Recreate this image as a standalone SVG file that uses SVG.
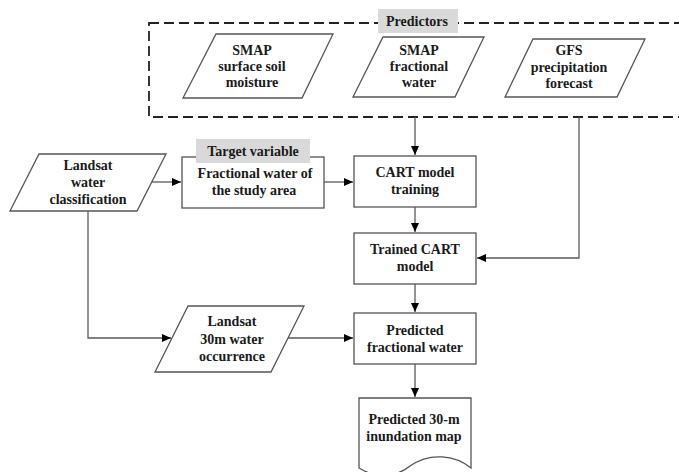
<svg xmlns="http://www.w3.org/2000/svg" width="679" height="472" viewBox="0 0 679 472">
<style>
  .box { fill: #ffffff; stroke: #555555; stroke-width: 1.3; }
  .lbl { fill: #d9d9d9; stroke: none; }
  .t { font-family: "Liberation Serif", "Times New Roman", serif; font-weight: bold; font-size: 14px; fill: #1a1a1a; text-anchor: middle; }
  .conn { fill: none; stroke: #5a5a5a; stroke-width: 1.3; }
  .dash { fill: none; stroke: #222222; stroke-width: 1.8; stroke-dasharray: 10 5; }
</style>
<defs>
  <marker id="arr" markerUnits="userSpaceOnUse" markerWidth="10" markerHeight="10" refX="9" refY="5" orient="auto">
    <path d="M0,1 L9,5 L0,9 Z" fill="#000000"/>
  </marker>
</defs>
<rect width="679" height="472" fill="#ffffff"/>

<g id="predictors-group">
  <rect class="dash" x="149" y="23" width="560" height="94"/>
  <rect class="lbl" x="378" y="9" width="80" height="24"/>
  <text class="t" x="417" y="26">Predictors</text>
</g>

<g id="smap-soil">
  <polygon class="box" points="216,34 333,34 302,98 183,98"/>
  <text class="t" x="252" y="55">SMAP</text>
  <text class="t" x="252" y="71">surface soil</text>
  <text class="t" x="252" y="87">moisture</text>
</g>

<g id="smap-fw">
  <polygon class="box" points="383,37 484,37 455,97 353,97"/>
  <text class="t" x="419" y="55">SMAP</text>
  <text class="t" x="419" y="71">fractional</text>
  <text class="t" x="419" y="87">water</text>
</g>

<g id="gfs">
  <polygon class="box" points="533,39 645,39 617,97 505,97"/>
  <text class="t" x="569" y="55">GFS</text>
  <text class="t" x="569" y="72">precipitation</text>
  <text class="t" x="569" y="88">forecast</text>
</g>

<g id="landsat-water">
  <polygon class="box" points="39,154 166,154 137,211 10,211"/>
  <text class="t" x="88" y="170">Landsat</text>
  <text class="t" x="88" y="187">water</text>
  <text class="t" x="88" y="204">classification</text>
</g>

<g id="fractional-target">
  <rect class="box" x="182" y="157" width="142" height="51"/>
  <rect class="lbl" x="196" y="139" width="114" height="24"/>
  <text class="t" x="253" y="156">Target variable</text>
  <text class="t" x="255" y="178">Fractional water of</text>
  <text class="t" x="254" y="195">the study area</text>
</g>

<g id="cart-training">
  <rect class="box" x="354" y="156" width="122" height="51"/>
  <text class="t" x="415" y="177">CART model</text>
  <text class="t" x="415" y="194">training</text>
</g>

<g id="trained-cart">
  <rect class="box" x="354" y="233" width="122" height="51"/>
  <text class="t" x="415" y="254">Trained CART</text>
  <text class="t" x="415" y="271">model</text>
</g>

<g id="landsat-30m">
  <polygon class="box" points="188,306 304,306 271,372 155,372"/>
  <text class="t" x="232" y="326">Landsat</text>
  <text class="t" x="232" y="344">30m water</text>
  <text class="t" x="232" y="361">occurrence</text>
</g>

<g id="predicted-fw">
  <rect class="box" x="354" y="313" width="122" height="51"/>
  <text class="t" x="415" y="335">Predicted</text>
  <text class="t" x="415" y="352">fractional water</text>
</g>

<g id="inundation-map">
  <path class="box" d="M359,398 H471 V468 C455,455 430,452 410,466 C395,478 375,478 359,468 Z"/>
  <text class="t" x="414" y="424">Predicted 30-m</text>
  <text class="t" x="414" y="441">inundation map</text>
</g>

<g id="connectors">
  <path class="conn" d="M415,117 V155" marker-end="url(#arr)"/>
  <path class="conn" d="M579,117 V258 H477" marker-end="url(#arr)"/>
  <path class="conn" d="M152,182 H181" marker-end="url(#arr)"/>
  <path class="conn" d="M324,182 H353" marker-end="url(#arr)"/>
  <path class="conn" d="M415,207 V232" marker-end="url(#arr)"/>
  <path class="conn" d="M88,211 V338 H171" marker-end="url(#arr)"/>
  <path class="conn" d="M288,338 H353" marker-end="url(#arr)"/>
  <path class="conn" d="M415,284 V312" marker-end="url(#arr)"/>
  <path class="conn" d="M415,364 V397" marker-end="url(#arr)"/>
</g>
</svg>
